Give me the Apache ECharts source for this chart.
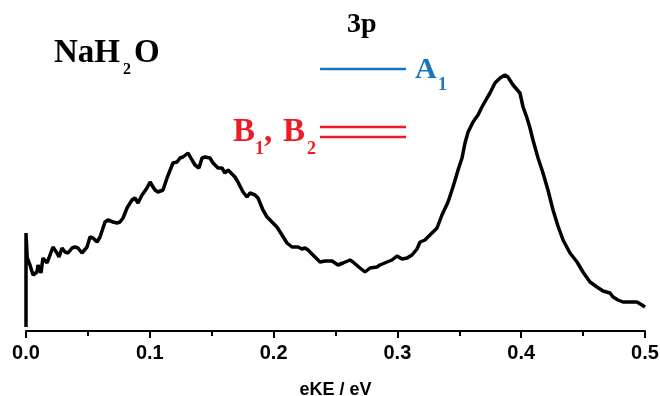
<!DOCTYPE html>
<html>
<head>
<meta charset="utf-8">
<script src="https://cdn.jsdelivr.net/npm/echarts@6/dist/echarts.min.js"></script>
<style>html,body{margin:0;padding:0;background:#fff}#c{width:660px;height:396px}</style>
</head>
<body>
<div id="c"></div>
<script>
// Photoelectron spectrum: [eKE (eV), intensity (arb.)]
var spectrum = [
[0,4],[0,98],[0.001,73],[0.0032,66],[0.0057,56],[0.0089,59],[0.0097,66],[0.0121,58],[0.0137,73],
[0.0170,68],[0.0194,76],[0.0218,84],[0.0250,78],[0.0267,74],[0.0291,83],[0.0315,79],[0.0339,78],
[0.0372,83],[0.0396,84],[0.0420,83],[0.0452,78],[0.0468,76],[0.0493,84],[0.0517,94],[0.0541,93],
[0.0574,89],[0.0598,94],[0.0638,109],[0.0662,111],[0.0703,109],[0.0735,108],[0.0759,109],[0.0784,113],
[0.0816,123],[0.0856,131],[0.0880,133],[0.0905,128],[0.0937,136],[0.0977,143],[0.1002,149],[0.1042,141],
[0.1066,139],[0.1107,141],[0.1139,153],[0.1187,168],[0.1220,169],[0.1244,173],[0.1268,174],[0.1309,178],
[0.1341,171],[0.1365,166],[0.1397,163],[0.1422,173],[0.1446,174],[0.1486,173],[0.1511,168],[0.1551,163],
[0.1583,163],[0.1607,158],[0.1632,161],[0.1648,163],[0.1688,154],[0.1712,149],[0.1753,139],[0.1785,134],
[0.1809,138],[0.1850,136],[0.1874,133],[0.1914,121],[0.1947,114],[0.1987,109],[0.2027,104],[0.2068,96],
[0.2108,88],[0.2149,84],[0.2197,84],[0.2229,82],[0.2254,83],[0.2278,81],[0.2318,76],[0.2375,69],
[0.2415,70],[0.2472,70],[0.2520,66],[0.2561,68],[0.2617,71],[0.2641,69],[0.2698,63],[0.2738,59],
[0.2779,63],[0.2835,64],[0.2859,66],[0.2916,69],[0.2956,71],[0.2997,75],[0.3037,72],[0.3078,73],
[0.3118,76],[0.3158,82],[0.3183,89],[0.3223,91],[0.3263,96],[0.3320,103],[0.3360,116],[0.3409,129],
[0.3449,144],[0.3490,161],[0.3522,173],[0.3546,188],[0.3571,199],[0.3611,209],[0.3651,216],[0.3683,224],
[0.3724,233],[0.3748,238],[0.3788,248],[0.3829,253],[0.3869,256],[0.3893,254],[0.3934,246],[0.3990,238],
[0.4015,224],[0.4047,213],[0.4071,203],[0.4095,191],[0.4136,173],[0.4176,158],[0.4216,141],[0.4257,121],
[0.4297,105],[0.4338,91],[0.4394,78],[0.4451,69],[0.4499,59],[0.4556,49],[0.4612,44],[0.4661,40],
[0.4717,38],[0.4742,34],[0.4782,31],[0.4822,29],[0.4879,29],[0.4935,29],[0.4976,26],[0.5,24]
];
// 3p level markers (annotation lines)
var levelA1 = [[0.2375,262],[0.307,262]];
var levelB1 = [[0.2375,204],[0.307,204]];
var levelB2 = [[0.2375,194],[0.307,194]];
var xTicks = [0, 0.1, 0.2, 0.3, 0.4, 0.5];

var blue = '#1c75bc', red = '#ed1c24';
var serif = 'bold {s}px "Liberation Serif", "Times New Roman", serif';
function f(s){return serif.replace('{s}', s);}
function txt(t, x, y, size, color){
  return {type:'text', style:{text:t, x:x, y:y, font:f(size), fill:color, align:'left', verticalAlign:'middle'}};
}

var chart = echarts.init(document.getElementById('c'), null, {renderer:'canvas'});
chart.setOption({
  animation:false,
  grid:{left:26, right:15, top:20, bottom:65, containLabel:false, outerBoundsMode:'none'},
  xAxis:{
    type:'value', min:xTicks[0], max:xTicks[xTicks.length-1], interval:0.1,
    name:'eKE / eV', nameLocation:'middle', nameGap:50,
    nameTextStyle:{fontFamily:'"Liberation Sans", Arial, sans-serif', fontWeight:'bold', fontSize:18, color:'#000'},
    axisLine:{lineStyle:{color:'#000', width:2}},
    axisTick:{length:7, lineStyle:{color:'#000', width:2}},
    minorTick:{show:true, splitNumber:2, length:5, lineStyle:{color:'#000', width:2}},
    splitLine:{show:false}, minorSplitLine:{show:false},
    axisLabel:{margin:12, color:'#000', fontFamily:'"Liberation Sans", Arial, sans-serif', fontWeight:'bold', fontSize:20,
      formatter:function(v){return v.toFixed(1);}}
  },
  yAxis:{type:'value', min:0, max:311, show:false},
  series:[
    {type:'line', data:spectrum, showSymbol:false, clip:false, lineStyle:{color:'#000', width:3.5}, z:3},
    {type:'line', data:levelA1, showSymbol:false, lineStyle:{color:blue, width:2.5}},
    {type:'line', data:levelB1, showSymbol:false, lineStyle:{color:red, width:2.5}},
    {type:'line', data:levelB2, showSymbol:false, lineStyle:{color:red, width:2.5}}
  ],
  graphic:[
    txt('NaH', 54, 53, 33, '#000'),
    txt('2', 123, 70, 16, '#000'),
    txt('O', 134, 53, 33, '#000'),
    txt('3p', 347, 25, 28, '#000'),
    txt('A', 415, 70, 30, blue),
    txt('1', 438, 85, 18, blue),
    txt('B', 233, 132, 33, red),
    txt('1', 255, 149, 18, red),
    txt(',', 264, 132, 33, red),
    txt('B', 283, 132, 33, red),
    txt('2', 307, 149, 18, red)
  ]
});
</script>
</body>
</html>
